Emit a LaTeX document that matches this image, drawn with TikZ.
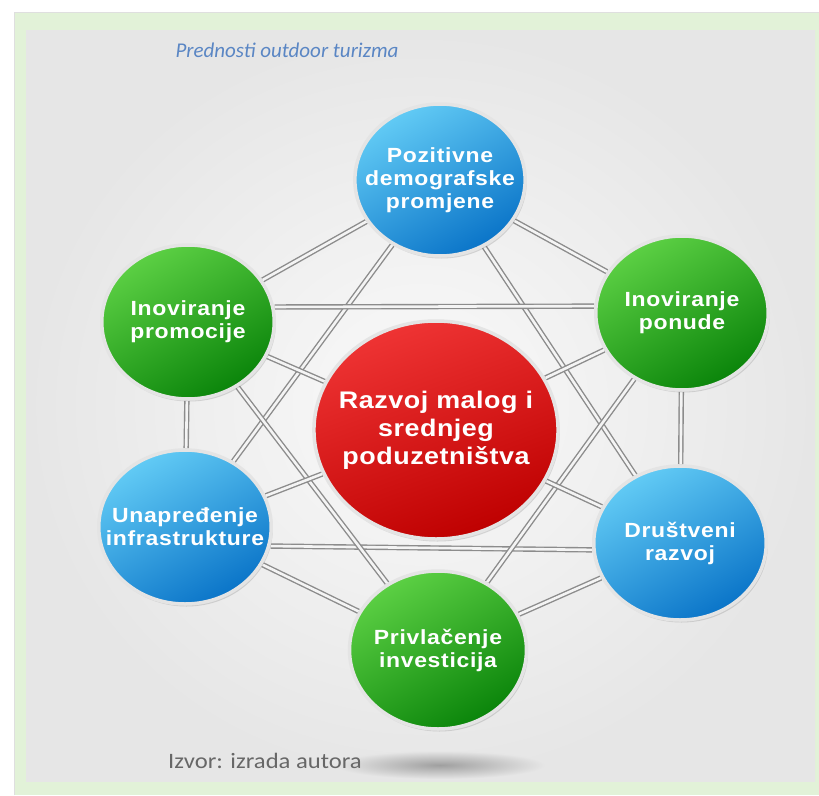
\documentclass[tikz,border=0pt]{standalone}
\usepackage{fontspec}
\setmainfont{Liberation Sans}
\newfontfamily\calib{Carlito}
\usetikzlibrary{shadows}
\definecolor{frame}{HTML}{E2F2D8}
\definecolor{panelin}{HTML}{FAFAFA}
\definecolor{panelout}{HTML}{E6E6E6}
\definecolor{titleblue}{HTML}{5A86C4}
\definecolor{srcgray}{HTML}{676767}
\definecolor{wire}{HTML}{8C8C8C}
\definecolor{wirein}{HTML}{F4F4F4}
\definecolor{rim}{HTML}{E4E4E4}
\definecolor{bluehi}{HTML}{62CBF5}
\definecolor{bluelo}{HTML}{0A74C8}
\definecolor{greenhi}{HTML}{5CD044}
\definecolor{greenlo}{HTML}{0A840A}
\definecolor{redhi}{HTML}{EF3434}
\definecolor{redlo}{HTML}{BE0000}
\pgfdeclarelayer{back}
\pgfdeclarelayer{wires}
\pgfsetlayers{back,wires,main}
\tikzset{
  orb/.style={circle, inner sep=0pt, xscale=1.12, draw=rim, line width=3.5pt,
    text=white, align=center, minimum size=154pt,
    font=\fontsize{20.5}{23}\selectfont\bfseries\addfontfeatures{LetterSpace=3},
    drop shadow={opacity=0.28, shadow xshift=1.5pt, shadow yshift=-2.5pt}},
  blueorb/.style={orb, top color=bluehi, bottom color=bluelo, shading angle=30},
  greenorb/.style={orb, top color=greenhi, bottom color=greenlo, shading angle=30},
  redorb/.style={orb, top color=redhi, bottom color=redlo, shading angle=20,
    minimum size=218pt,
    font=\fontsize{24}{28}\selectfont\bfseries\addfontfeatures{LetterSpace=2}},
  pipe/.style={draw=wire, line width=1.4pt, double=wirein, double distance=2.6pt},
  ttl/.style={text=titleblue, inner sep=0pt,
    font=\calib\itshape\fontsize{21}{25}\selectfont},
  src/.style={text=srcgray, xscale=1.12, inner sep=0pt,
    font=\calib\fontsize{22}{26}\selectfont},
}

\begin{document}
\begin{tikzpicture}[x=1pt,y=-1pt]
  \useasboundingbox (0,0) rectangle (819,795);

  % frame and panel
  \begin{pgfonlayer}{back}
    \fill[frame] (14,12) rectangle (819,795);
    \draw[gray!25] (14,795) -- (14,12) -- (819,12);
    \shade[inner color=panelin, outer color=panelout] (26,30) rectangle (815,781);
    \shade[inner color=gray!75, outer color=panelout] (440,765) ellipse (105 and 14);
  \end{pgfonlayer}

  \node[ttl, anchor=base] (title) at (287,57) {Prednosti outdoor turizma};

  % centre and the six satellites
  \node[redorb] (core) at (436,430) {Razvoj malog i\\srednjeg\\poduzetništva};
  \node[blueorb, minimum size=152pt] (demo) at (440,180) {Pozitivne\\demografske\\promjene};
  \node[greenorb] (ponuda) at (682,313) {Inoviranje\\ponude};
  \node[greenorb] (promo) at (188,322) {Inoviranje\\promocije};
  \node[blueorb] (infra) at (185,527) {Unapređenje\\infrastrukture};
  \node[blueorb] (drustvo) at (680,543) {Društveni\\razvoj};
  \node[greenorb, minimum size=158pt] (invest) at (438,650) {Privlačenje\\investicija};

  \node[src, anchor=base west] (source) at (168,768) {Izvor: izrada autora};

  \begin{pgfonlayer}{wires}
    % outer ring
    \draw[pipe] (demo) -- (ponuda);
    \draw[pipe] (ponuda) -- (drustvo);
    \draw[pipe] (drustvo) -- (invest);
    \draw[pipe] (invest) -- (infra);
    \draw[pipe] (infra) -- (promo);
    \draw[pipe] (promo) -- (demo);
    % two triangles
    \draw[pipe] (demo) -- (infra);
    \draw[pipe] (demo) -- (drustvo);
    \draw[pipe] (infra.-14) -- (drustvo.185);
    \draw[pipe] (promo.11) -- (ponuda.175);
    \draw[pipe] (promo) -- (invest);
    \draw[pipe] (ponuda) -- (invest);
    % spokes
    \draw[pipe] (core) -- (promo);
    \draw[pipe] (core) -- (ponuda);
    \draw[pipe] (core) -- (infra);
    \draw[pipe] (core) -- (drustvo);
  \end{pgfonlayer}
\end{tikzpicture}
\end{document}
